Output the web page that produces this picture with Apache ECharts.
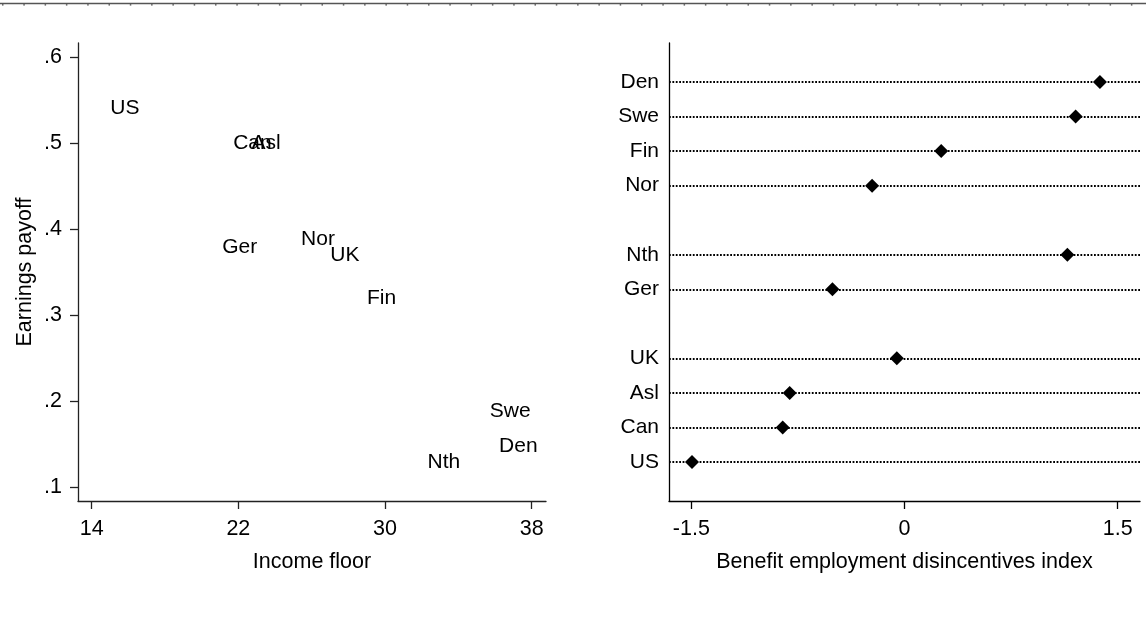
<!DOCTYPE html>
<html>
<head>
<meta charset="utf-8">
<script src="https://cdn.jsdelivr.net/npm/echarts@6/dist/echarts.min.js"></script>
<style>
html,body{margin:0;padding:0;background:#fff;}
#chart{width:1146px;height:621px;}
</style>
</head>
<body>
<div id="chart"></div>
<script>
// Left panel: labelled scatter
const countries = ['US','Can','Asl','Ger','Nor','UK','Fin','Swe','Den','Nth'];
const incomeFloor = [14.8, 21.5, 22.5, 20.9, 25.2, 26.8, 28.8, 35.5, 36.0, 32.1];
const earningsPayoff = [0.54, 0.50, 0.50, 0.379, 0.388, 0.37, 0.319, 0.188, 0.147, 0.129];
const xTicksLeft = [14, 22, 30, 38];
const yTicksLeft = [0.1, 0.2, 0.3, 0.4, 0.5, 0.6];

// Right panel: dot plot
const dotNames = ['Den','Swe','Fin','Nor','Nth','Ger','UK','Asl','Can','US'];
const dotRows = [0, 1, 2, 3, 5, 6, 8, 9, 10, 11];
const dotValues = [1.375, 1.204, 0.258, -0.228, 1.146, -0.507, -0.054, -0.808, -0.857, -1.495];
const xTicksRight = [-1.5, 0, 1.5];

const FONT = 'Liberation Sans, Arial, Helvetica, sans-serif';
const AX = '#222';
const txt = {color:'#000', fontSize:21.5, fontFamily:FONT};
const lbl = {color:'#000', fontSize:21, fontFamily:FONT};

const chart = echarts.init(document.getElementById('chart'));
const option = {
  animation:false,
  backgroundColor:'#fff',
  textStyle:{fontFamily:FONT},
  graphic:[
    {type:'line', shape:{x1:0,y1:3.5,x2:1146,y2:3.5}, style:{stroke:'#555', lineWidth:1.5}},
    {type:'line', shape:{x1:2,y1:4.8,x2:1146,y2:4.8}, style:{stroke:'#444', lineWidth:1.2, lineDash:[1.5,19.8]}}
  ],
  grid:[
    {left:78, top:43, width:468, height:458},
    {left:669, top:43, width:471, height:458}
  ],
  xAxis:[
    {
      gridIndex:0, type:'value', min:13.253, max:38.78,
      name:'Income floor', nameLocation:'middle', nameGap:50,
      nameTextStyle:txt,
      axisLine:{show:true, onZero:false, lineStyle:{color:AX, width:1.3}},
      axisTick:{show:true, length:8, customValues:xTicksLeft, lineStyle:{color:AX, width:1.3}},
      axisLabel:{customValues:xTicksLeft, margin:17, ...txt},
      splitLine:{show:false}
    },
    {
      gridIndex:1, type:'value', min:-1.657, max:1.657,
      name:'Benefit employment disincentives index', nameLocation:'middle', nameGap:50,
      nameTextStyle:txt,
      axisLine:{show:true, onZero:false, lineStyle:{color:'#000', width:1.3}},
      axisTick:{show:true, length:8, customValues:xTicksRight, lineStyle:{color:'#000', width:1.3}},
      axisLabel:{customValues:xTicksRight, margin:17, ...txt},
      splitLine:{show:false}
    }
  ],
  yAxis:[
    {
      gridIndex:0, type:'value', min:0.0837, max:0.6163,
      name:'Earnings payoff', nameLocation:'middle', nameGap:42, nameRotate:90,
      nameTextStyle:txt,
      axisLine:{show:true, onZero:false, lineStyle:{color:AX, width:1.3}},
      axisTick:{show:true, length:8, customValues:yTicksLeft, lineStyle:{color:AX, width:1.3}},
      axisLabel:{customValues:yTicksLeft, margin:16, ...txt,
        formatter:v => String(Math.round(v*10)/10).replace(/^0/, '')},
      splitLine:{show:false}
    },
    {
      gridIndex:1, type:'value', inverse:true, min:-1.13, max:12.13,
      axisLine:{show:true, onZero:false, lineStyle:{color:'#000', width:1.3}},
      axisTick:{show:false},
      axisLabel:{customValues:dotRows, margin:10, ...lbl,
        formatter:v => { const i = dotRows.indexOf(Math.round(v)); return i >= 0 ? dotNames[i] : ''; }},
      splitLine:{show:false}
    }
  ],
  series:[
    {
      type:'scatter', xAxisIndex:0, yAxisIndex:0,
      symbolSize:0,
      itemStyle:{opacity:1},
      data: countries.map((c,i) => ({name:c, value:[incomeFloor[i], earningsPayoff[i]]})),
      label:{show:true, position:'right', distance:4, opacity:1, formatter:p => p.name, ...lbl}
    },
    {
      type:'scatter', xAxisIndex:1, yAxisIndex:1,
      symbol:'diamond', symbolSize:[14,14],
      itemStyle:{color:'#000', opacity:1},
      z:5,
      data: dotNames.map((c,i) => ({name:c, value:[dotValues[i], dotRows[i]]})),
      markLine:{
        silent:true, symbol:'none', animation:false,
        label:{show:false},
        lineStyle:{color:'#000', width:1.8, opacity:1, type:[1.8,1.6]},
        emphasis:{disabled:true},
        data: dotRows.map(r => ({yAxis:r}))
      }
    }
  ]
};
chart.setOption(option);
</script>
</body>
</html>
